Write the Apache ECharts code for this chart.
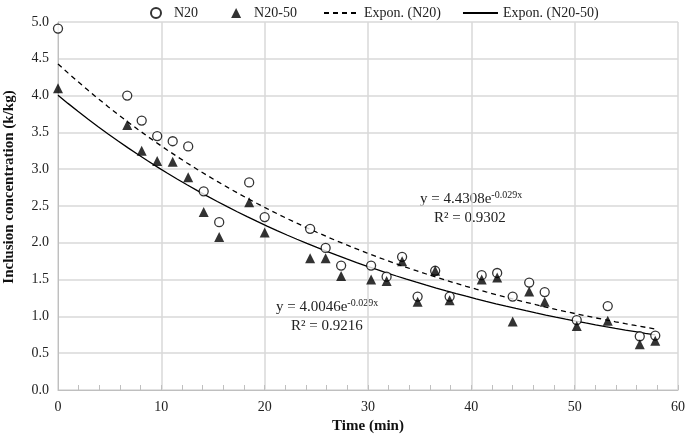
<!DOCTYPE html>
<html><head><meta charset="utf-8">
<script src="https://cdn.jsdelivr.net/npm/echarts@6/dist/echarts.min.js"></script>
<style>html,body{margin:0;padding:0;background:#fff}#c{width:685px;height:438px}</style>
</head><body><div id="c"></div>
<script>
const timeMin = [0, 6.7, 8.1, 9.6, 11.1, 12.6, 14.1, 15.6, 18.5, 20, 24.4, 25.9, 27.4, 30.3, 31.8, 33.3, 34.8, 36.5, 37.9, 41, 42.5, 44, 45.6, 47.1, 50.2, 53.2, 56.3, 57.8];
const n20 = [4.91, 4.00, 3.66, 3.45, 3.38, 3.31, 2.70, 2.28, 2.82, 2.35, 2.19, 1.93, 1.69, 1.69, 1.54, 1.81, 1.27, 1.62, 1.27, 1.56, 1.59, 1.27, 1.46, 1.33, 0.95, 1.14, 0.73, 0.74];
const n2050 = [4.10, 3.60, 3.25, 3.11, 3.10, 2.89, 2.42, 2.08, 2.55, 2.14, 1.79, 1.79, 1.55, 1.50, 1.48, 1.75, 1.20, 1.62, 1.22, 1.50, 1.53, 0.93, 1.34, 1.20, 0.87, 0.94, 0.62, 0.67];
// fitted trendlines from chart equations: y = a * exp(b x)
const fitN20 = [4.4308, -0.029];
const fitN2050 = [4.0046, -0.029];
const fitRange = [0, 57.8];

function curve(fit) {
  const pts = [];
  const steps = 60;
  for (let i = 0; i <= steps; i++) {
    const x = fitRange[0] + (fitRange[1] - fitRange[0]) * i / steps;
    pts.push([x, fit[0] * Math.exp(fit[1] * x)]);
  }
  return pts;
}
const font = '"Liberation Serif","Times New Roman",serif';
const chart = echarts.init(document.getElementById('c'));
const supRich = {n: {fontFamily: font, fontSize: 15, fill: '#222'}, s: {fontFamily: font, fontSize: 10, fill: '#222', verticalAlign: 'top', padding: [0,0,8,0]}};
chart.setOption({
  animation: false,
  textStyle: {fontFamily: font},
  grid: {left: 58, right: 7, top: 22, bottom: 48, containLabel: false, outerBoundsMode: 'none'},
  legend: [{
    top: 1, left: 145, itemGap: 33, itemWidth: 10, itemHeight: 10,
    textStyle: {fontFamily: font, fontSize: 14, color: '#222', padding: [0, 0, 0, 8]},
    data: ['N20', 'N20-50']
  }, {
    top: 1, left: 318, itemGap: 21, itemWidth: 35, itemHeight: 10,
    textStyle: {fontFamily: font, fontSize: 14, color: '#222'},
    data: [{name: 'Expon. (N20)', itemStyle: {opacity: 0}}, {name: 'Expon. (N20-50)', itemStyle: {opacity: 0}}]
  }],
  xAxis: {
    type: 'value', min: 0, max: 60, interval: 10,
    name: 'Time (min)', nameLocation: 'middle', nameGap: 29,
    nameTextStyle: {fontFamily: font, fontSize: 15, fontWeight: 'bold', color: '#111'},
    axisLine: {lineStyle: {color: '#bfbfbf'}},
    axisTick: {show: true, inside: true, length: 5, lineStyle: {color: '#bfbfbf'}},
    minorTick: {show: true, splitNumber: 5, length: 5, lineStyle: {color: '#bfbfbf'}},
    axisLabel: {fontFamily: font, fontSize: 14, color: '#222', margin: 10},
    splitLine: {show: true, lineStyle: {color: '#d9d9d9', width: 1.5}}
  },
  yAxis: {
    type: 'value', min: 0, max: 5, interval: 0.5,
    name: 'Inclusion concentration (k/kg)', nameLocation: 'middle', nameGap: 41,
    nameTextStyle: {fontFamily: font, fontSize: 15, fontWeight: 'bold', color: '#111', padding: [0, 0, 0, 38]},
    axisLine: {show: true, lineStyle: {color: '#bfbfbf'}},
    axisTick: {show: false},
    axisLabel: {fontFamily: font, fontSize: 14, color: '#222', margin: 9, formatter: v => v.toFixed(1)},
    splitLine: {show: true, lineStyle: {color: '#d9d9d9', width: 1.5}}
  },
  series: [
    {name: 'N20', type: 'scatter', symbol: 'circle', symbolSize: 9, z: 3,
     itemStyle: {color: '#fff', borderColor: '#000', borderWidth: 1.3},
     data: timeMin.map((t, i) => [t, n20[i]])},
    {name: 'N20-50', type: 'scatter', symbol: 'triangle', symbolSize: 10, z: 4,
     itemStyle: {color: '#000'},
     data: timeMin.map((t, i) => [t, n2050[i]])},
    {name: 'Expon. (N20)', type: 'line', showSymbol: false, symbol: 'none', z: 2,
     lineStyle: {color: '#000', width: 1.3, type: [5, 4]}, itemStyle: {color: '#000'},
     data: curve(fitN20)},
    {name: 'Expon. (N20-50)', type: 'line', showSymbol: false, symbol: 'none', z: 2,
     lineStyle: {color: '#000', width: 1.3}, itemStyle: {color: '#000'},
     data: curve(fitN2050)}
  ],
  graphic: [
    {type: 'text', left: 420, top: 190, style: {rich: supRich, text: '{n|y = 4.4308e}{s|-0.029x}'}},
    {type: 'text', left: 434, top: 211, style: {text: 'R² = 0.9302', fontFamily: font, fontSize: 15, fill: '#222'}},
    {type: 'text', left: 276, top: 298, style: {rich: supRich, text: '{n|y = 4.0046e}{s|-0.029x}'}},
    {type: 'text', left: 291, top: 319, style: {text: 'R² = 0.9216', fontFamily: font, fontSize: 15, fill: '#222'}}
  ]
});
</script></body></html>
